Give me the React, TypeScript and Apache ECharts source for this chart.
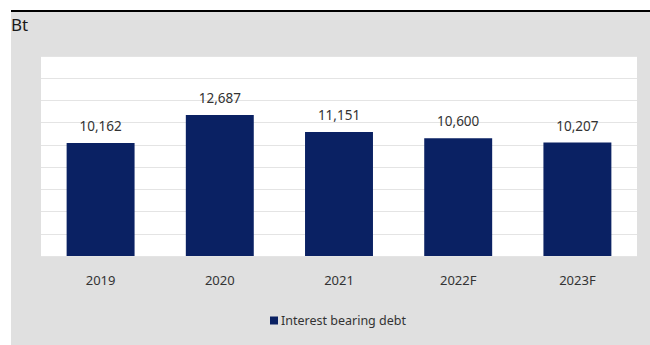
import React, { useEffect, useRef } from "react";
import * as echarts from "echarts";

const categories = ["2019", "2020", "2021", "2022F", "2023F"];
const debtValues = [10162, 12687, 11151, 10600, 10207];
const seriesName = "Interest bearing debt";
const unitLabel = "Bt";

const FONT = "'Noto Sans', sans-serif";

export default function App() {
  const ref = useRef<HTMLDivElement>(null);
  useEffect(() => {
    if (!ref.current) return;
    const chart = echarts.init(ref.current, null, { renderer: "svg" });
    chart.setOption({
      animation: false,
      backgroundColor: "#ffffff",
      textStyle: { fontFamily: FONT },
      graphic: [
        {
          type: "rect",
          z: -10,
          silent: true,
          shape: { x: 11, y: 11, width: 639, height: 334 },
          style: { fill: "#e0e0e0" },
        },
        {
          type: "line",
          silent: true,
          shape: { x1: 11, y1: 11, x2: 650, y2: 11 },
          style: { stroke: "#000000", lineWidth: 2 },
        },
        {
          type: "text",
          x: 11,
          y: 16,
          style: {
            text: unitLabel,
            fontSize: 17,
            fontFamily: FONT,
            fill: "#1a1a1a",
          },
        },
      ],
      grid: {
        left: 41,
        right: 13,
        top: 56,
        height: 200,
        show: true,
        backgroundColor: "#ffffff",
        borderWidth: 0,
        containLabel: false,
      },
      legend: {
        bottom: 13,
        left: 265,
        icon: "rect",
        itemWidth: 8,
        itemHeight: 8,
        itemGap: 10,
        itemStyle: { borderWidth: 0 },
        textStyle: { fontSize: 12.5, color: "#333333", fontFamily: FONT, padding: [0, 0, 0, -2] },
        data: [seriesName],
      },
      xAxis: {
        type: "category",
        data: categories,
        axisLine: { show: false },
        axisTick: { show: false },
        axisLabel: { fontSize: 13, color: "#333333", margin: 17, fontFamily: FONT },
      },
      yAxis: {
        type: "value",
        min: 0,
        max: 18000,
        interval: 2000,
        axisLabel: { show: false },
        axisLine: { show: false },
        axisTick: { show: false },
        splitLine: { lineStyle: { color: "#e4e4e4", width: 1 } },
      },
      series: [
        {
          name: seriesName,
          type: "bar",
          data: debtValues,
          barWidth: "57%",
          itemStyle: { color: "#0a2163" },
          label: {
            show: true,
            position: "top",
            distance: 10,
            fontSize: 13.5,
            color: "#333333",
            fontFamily: FONT,
            formatter: (p: any) => Number(p.value).toLocaleString("en-US"),
          },
        },
      ],
    });
    return () => chart.dispose();
  }, []);
  return (
    <div
      ref={ref}
      style={{ position: "absolute", left: 0, top: 0, width: 650, height: 345 }}
    />
  );
}
